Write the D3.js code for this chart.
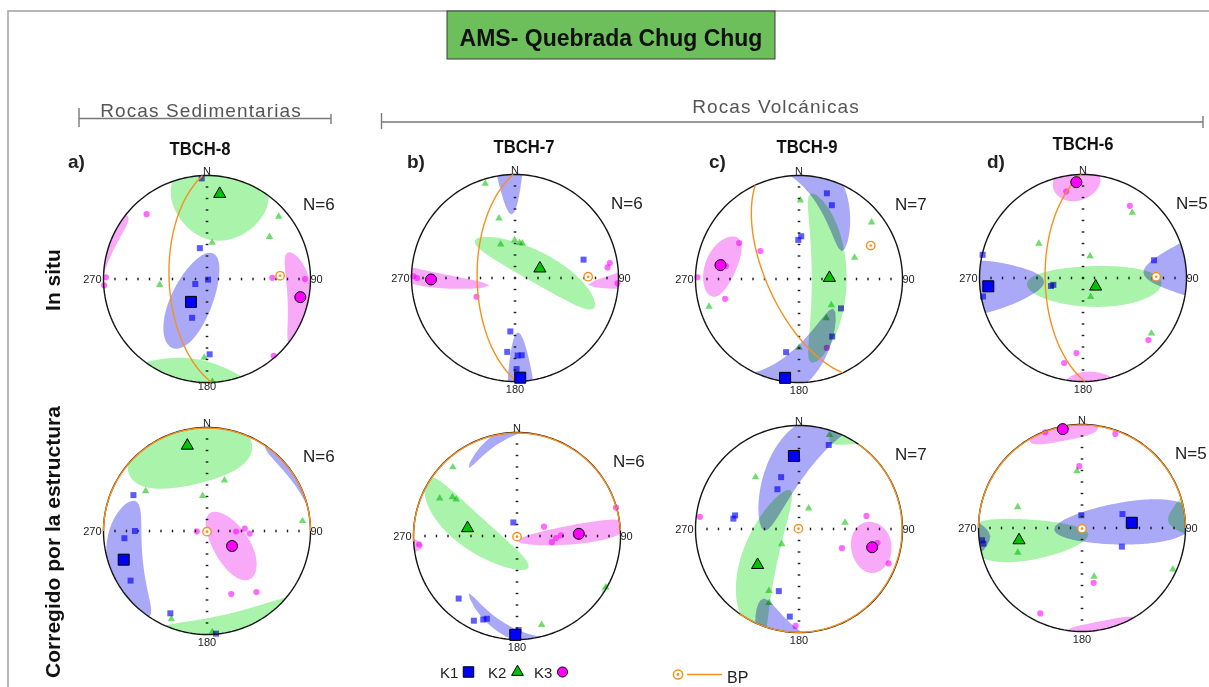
<!DOCTYPE html>
<html>
<head>
<meta charset="utf-8">
<script src="https://cdn.jsdelivr.net/npm/d3@7"></script>
<style>
  html, body { margin: 0; padding: 0; background: #ffffff; }
  svg { display: block; font-family: "Liberation Sans", Arial, Helvetica, sans-serif; }
</style>
</head>
<body>
<svg id="fig" width="1209" height="687"></svg>
<script>
// ---------------------------------------------------------------------------
// AMS stereonets (lower hemisphere, equal area). Directions are [trend, plunge]
// in degrees. Panel order: in situ a, b, c, d, then tilt-corrected a, b, c, d.
// ---------------------------------------------------------------------------
const figureTitle = "AMS- Quebrada Chug Chug";
const groupTitles = ["Rocas Sedimentarias", "Rocas Volcánicas"];
const rowTitles = ["In situ", "Corregido por la estructura"];
const panelLetters = ["a)", "b)", "c)", "d)"];
const sampleNames = ["TBCH-8", "TBCH-7", "TBCH-9", "TBCH-6"];
const specimenCounts = [6, 6, 7, 5];
const directionLabels = ["N", "90", "180", "270"];
const legendLabels = ["K1", "K2", "K3", "BP"];

// site means of the principal susceptibility axes
const k1Mean = [[215, 68], [177, 4], [188, 4], [265, 9], [251, 16], [181, 5], [356, 30], [84, 50]];
const k2Mean = [[8.5, 18], [69, 69], [88, 66], [124, 78], [347, 16.5], [279, 50], [229, 46], [259, 38]];
const k3Mean = [[101, 9], [269, 20], [280, 24], [356, 8], [121, 67], [88, 40], [104, 28], [349, 3]];

// confidence cones about each mean: [semi-angle 1, semi-angle 2, azimuth of semi-angle 1]
const k1Cone = [[42, 16, -11], [42.5, 7, 0], [68, 13, 32], [50, 15, 0], [40, 17, -67], [44, 5, -53], [63, 15, 31], [62, 16, 1]];
const k2Cone = [[41, 31, 0], [56, 12, 49], [70, 14, 92], [55, 16, -34], [41, 35, 90], [57, 13, 28], [64, 14, -31], [56, 15, 7]];
const k3Cone = [[30, 12, 65], [50, 5, 7], [22, 14, -65], [18.5, 14, 10], [31, 14, 26], [50, 7, -5], [20, 16, 25], [20, 12, 90]];

// individual specimens
const k1Specimens = [
  [[347, 65], [120, 89], [247, 80], [201, 57], [178, 28], [357, 3]],
  [[75, 32], [185, 47], [186, 29], [178, 26], [175, 26], [179, 13]],
  [[18, 14], [24, 23], [359, 59], [3, 56], [125, 49], [150, 36], [190, 29]],
  [[283, 0.5], [259.5, 2], [256, 64], [257, 66], [76, 30]],
  [[296, 22], [270, 31], [265, 21], [237, 13], [204, 14], [175, 0.5]],
  [[345, 79], [223, 18.5], [207, 9], [202, 14], [200, 16], [179, 10]],
  [[19.5, 15], [341, 46], [331.5, 54], [279, 36], [282, 37], [198, 37], [186, 16]],
  [[357, 80], [71, 56], [115, 55], [263, 3], [261, 4]]
];
const k2Specimens = [
  [[8, 61], [49, 9], [56, 28], [263, 52], [182, 25], [177, 1]],
  [[342.5, 5], [345, 40], [337, 61], [359.5, 60], [7.5, 62], [12, 62]],
  [[1, 25], [52, 12], [69, 42], [129, 57], [145, 52], [180, 34], [253, 10]],
  [[37, 22], [308, 45], [18, 72], [158, 74], [129, 16]],
  [[303, 30], [353, 62], [19, 47], [84, 8], [202, 9], [177, 2.5]],
  [[317, 10], [296, 18], [301, 28], [301, 32], [164.5, 12], [120, 1]],
  [[18, 5], [320, 35], [25, 72], [82, 53], [229, 72], [206, 34], [202, 24]],
  [[355, 44], [288, 35], [249, 34], [166, 50], [114.5, 4]]
];
const k3Specimens = [
  [[317, 15.5], [271, 2.6], [266.5, 0.5], [89, 37], [90, 6], [139, 2]],
  [[271, 2], [244, 56], [83.5, 11], [81, 8], [93, 1], [270, 6]],
  [[301, 33], [306, 52], [271, 2], [255, 27], [158, 29], [280, 29], [282.5, 25]],
  [[349, 16], [33, 18], [133.5, 14], [185, 28], [192.5, 17]],
  [[268, 82], [91, 67], [86.5, 60], [93.5, 56], [159, 35], [141, 25]],
  [[71, 67.5], [100, 62], [93, 59], [89, 55], [74, 0.5], [265, 5.6]],
  [[277, 4], [79, 34], [114, 52.5], [100, 24], [111, 8], [182, 7], [102.5, 26]],
  [[339, 1], [19.5, 4], [357.5, 40], [168, 45], [206, 9]]
];

// pole to bedding (BP); its plane is drawn as a great circle
const bedPole = [[87.5, 30], [89, 30], [65, 24.5], [89, 30], [180, 89.5], [177, 89.5], [305, 89.5], [180, 89.5]];

// ---------------------------------------------------------------------------
// layout and styling
// ---------------------------------------------------------------------------
const R = 103.5;
const centers = [[207, 279], [515, 278], [799, 279], [1083, 278],
                 [207, 531], [517, 536], [799, 529], [1082, 528]];
const colors = {
  k1: "#0000ff", k1Small: "#5c5cff", k1Cone: "#a9a9f8",
  k2: "#00c400", k2Small: "#70dc70", k2Cone: "#aaf3aa",
  k3: "#ff00ff", k3Small: "#ff6bff", k3Cone: "#f8aaf8",
  bp: "#f7901e"
};
const rad = Math.PI / 180;

const svg = d3.select("#fig");

// lower-hemisphere direction -> geographic coordinates (nadir = projection centre)
const lonLat = d => [180 - d[0], d[1]];

// spherical ellipse about a mean direction, plus its antipode (axial data)
function coneRegions(mean, cone) {
  const a = cone[0] * rad, b = cone[1] * rad, rot = cone[2] * rad;
  const L = (180 - mean[0]) * rad, P = mean[1] * rad;
  const c = [Math.cos(P) * Math.cos(L), Math.cos(P) * Math.sin(L), Math.sin(P)];
  const eN = [-Math.sin(P) * Math.cos(L), -Math.sin(P) * Math.sin(L), Math.cos(P)];
  const eE = [-Math.sin(L), Math.cos(L), 0];
  const u = [0, 1, 2].map(i => eN[i] * Math.cos(rot) + eE[i] * Math.sin(rot));
  const v = [0, 1, 2].map(i => -eN[i] * Math.sin(rot) + eE[i] * Math.cos(rot));
  const ring = d3.range(0, 360, 3).map(deg => {
    const t = deg * rad;
    const th = a * b / Math.hypot(b * Math.cos(t), a * Math.sin(t));
    const p = [0, 1, 2].map(i => c[i] * Math.cos(th) + (u[i] * Math.cos(t) + v[i] * Math.sin(t)) * Math.sin(th));
    return [Math.atan2(p[1], p[0]) / rad, Math.asin(Math.max(-1, Math.min(1, p[2]))) / rad];
  });
  ring.push(ring[0]);
  const anti = ring.map(([x, y]) => [x > 0 ? x - 180 : x + 180, -y]);
  return [ring, anti].map(r => {
    const poly = { type: "Polygon", coordinates: [r] };
    if (d3.geoArea(poly) > 2 * Math.PI) poly.coordinates = [r.slice().reverse()];
    return poly;
  });
}

const symbolPath = (type, size) => d3.symbol().type(type).size(size)();

// ---------------------------------------------------------------------------
// frame, title and headers
// ---------------------------------------------------------------------------
svg.append("path").attr("d", "M8,687V11H1209")
  .attr("fill", "none").attr("stroke", "#a0a0a0").attr("stroke-width", 1.5);

svg.append("rect").attr("x", 447).attr("y", 11).attr("width", 328).attr("height", 48)
  .attr("fill", "#6cbf5b").attr("stroke", "#3d3d3d").attr("stroke-width", 1);
svg.append("text").attr("x", 611).attr("y", 46).attr("text-anchor", "middle")
  .attr("font-size", 23).attr("font-weight", "bold").attr("fill", "#111").text(figureTitle);

const groups = [
  { title: groupTitles[0], tx: 201, ty: 116.5, x0: 79, x1: 331, ly: 118.5, t0: [108, 127], t1: [114, 124] },
  { title: groupTitles[1], tx: 776, ty: 113, x0: 381.5, x1: 1203, ly: 122, t0: [113, 129], t1: [116, 128] }
];
groups.forEach(g => {
  svg.append("path")
    .attr("d", `M${g.x0},${g.t0[0]}V${g.t0[1]}M${g.x0},${g.ly}H${g.x1}M${g.x1},${g.t1[0]}V${g.t1[1]}`)
    .attr("fill", "none").attr("stroke", "#7a7a7a").attr("stroke-width", 1.4);
  svg.append("text").attr("x", g.tx).attr("y", g.ty).attr("text-anchor", "middle")
    .attr("font-size", 19).attr("letter-spacing", 1.1).attr("fill", "#555").text(g.title);
});

const letterX = [68, 407, 709, 987];
const nameX = [200, 524, 807, 1083];
const nameY = [155, 153, 153, 150];
panelLetters.forEach((t, i) => {
  svg.append("text").attr("x", letterX[i]).attr("y", 168)
    .attr("font-size", 19).attr("font-weight", "bold").attr("fill", "#222").text(t);
  svg.append("text").attr("x", nameX[i]).attr("y", nameY[i]).attr("text-anchor", "middle")
    .attr("font-size", 18).attr("font-weight", "bold").attr("fill", "#111")
    .attr("textLength", 61).attr("lengthAdjust", "spacingAndGlyphs").text(sampleNames[i]);
});

const rowY = [280, 542];
rowTitles.forEach((t, i) => {
  svg.append("text").attr("transform", `translate(60,${rowY[i]}) rotate(-90)`)
    .attr("text-anchor", "middle").attr("font-size", 21).attr("font-weight", "bold")
    .attr("fill", "#111").text(t);
});

// ---------------------------------------------------------------------------
// stereonets
// ---------------------------------------------------------------------------
const tickScale = d3.scaleLinear().domain([-9, 9]).range([-R, R]);
const tickSteps = d3.range(-8, 9);

centers.forEach((cen, k) => {
  const proj = d3.geoAzimuthalEqualArea()
    .rotate([0, -90]).scale(R / Math.SQRT2).translate(cen)
    .clipAngle(90).precision(0.2);
  const path = d3.geoPath(proj);
  const g = svg.append("g");
  const at = d => `translate(${proj(lonLat(d))})`;

  // confidence regions
  [[k1Mean, k1Cone, colors.k1Cone], [k3Mean, k3Cone, colors.k3Cone], [k2Mean, k2Cone, colors.k2Cone]]
    .forEach(([m, c, col]) => {
      g.append("g").selectAll("path").data(coneRegions(m[k], c[k])).join("path")
        .attr("d", path).attr("fill", col).attr("stroke", "none")
        .style("mix-blend-mode", "multiply");
    });

  // specimens
  g.append("g").selectAll("path").data(k1Specimens[k]).join("path")
    .attr("transform", at).attr("d", symbolPath(d3.symbolSquare, 36))
    .attr("fill", colors.k1Small).style("mix-blend-mode", "multiply");
  g.append("g").selectAll("path").data(k2Specimens[k]).join("path")
    .attr("transform", at).attr("d", symbolPath(d3.symbolTriangle, 24))
    .attr("fill", colors.k2Small).style("mix-blend-mode", "multiply");
  g.append("g").selectAll("path").data(k3Specimens[k]).join("path")
    .attr("transform", at).attr("d", symbolPath(d3.symbolCircle, 30))
    .attr("fill", colors.k3Small).style("mix-blend-mode", "multiply");

  // dotted N-S and E-W diameters
  g.append("g").selectAll("rect").data(tickSteps).join("rect")
    .attr("x", cen[0] - 1.3).attr("y", d => cen[1] + tickScale(d) - 0.7)
    .attr("width", 2.6).attr("height", 1.4).attr("fill", "#1a1a1a");
  g.append("g").selectAll("rect").data(tickSteps).join("rect")
    .attr("x", d => cen[0] + tickScale(d) - 0.7).attr("y", cen[1] - 1.3)
    .attr("width", 1.4).attr("height", 2.6).attr("fill", "#1a1a1a");

  // primitive circle
  g.append("path").attr("d", path({ type: "Sphere" }))
    .attr("fill", "none").attr("stroke", "#151515").attr("stroke-width", 1.4);

  // bedding plane and its pole
  const plane = d3.geoCircle().center(lonLat(bedPole[k])).radius(90).precision(1)();
  g.append("path").attr("d", path({ type: "LineString", coordinates: plane.coordinates[0] }))
    .attr("fill", "none").attr("stroke", colors.bp).attr("stroke-width", 1.4);
  const pole = proj(lonLat(bedPole[k]));
  g.append("circle").attr("cx", pole[0]).attr("cy", pole[1]).attr("r", 4.2)
    .attr("fill", "#fff").attr("stroke", colors.bp).attr("stroke-width", 1.4);
  g.append("circle").attr("cx", pole[0]).attr("cy", pole[1]).attr("r", 1.3).attr("fill", colors.bp);

  // site means
  g.append("path").attr("transform", at(k1Mean[k])).attr("d", symbolPath(d3.symbolSquare, 121))
    .attr("fill", colors.k1).attr("stroke", "#000").attr("stroke-width", 1);
  g.append("path").attr("transform", at(k2Mean[k])).attr("d", symbolPath(d3.symbolTriangle, 64))
    .attr("fill", colors.k2).attr("stroke", "#000").attr("stroke-width", 1);
  g.append("path").attr("transform", at(k3Mean[k])).attr("d", symbolPath(d3.symbolCircle, 95))
    .attr("fill", colors.k3).attr("stroke", "#000").attr("stroke-width", 1);

  // direction labels
  const lab = (x, y, t, anchor) => g.append("text").attr("x", x).attr("y", y)
    .attr("text-anchor", anchor).attr("font-size", 11).attr("fill", "#222").text(t);
  lab(cen[0], cen[1] - R - 1, directionLabels[0], "middle");
  lab(cen[0] + R, cen[1] + 4, directionLabels[1], "start");
  lab(cen[0], cen[1] + R + (k === 0 ? 7 : 11), directionLabels[2], "middle");
  lab(cen[0] - R - 2, cen[1] + 4, directionLabels[3], "end");

  g.append("text").attr("x", cen[0] + (k % 4 === 3 ? 93 : 96)).attr("y", cen[1] - 69)
    .attr("font-size", 17).attr("fill", "#222").text("N=" + specimenCounts[k % 4]);
});

// ---------------------------------------------------------------------------
// legend
// ---------------------------------------------------------------------------
const legend = svg.append("g");
const legendItems = [
  { label: legendLabels[0], tx: 440, sx: 468.5, type: d3.symbolSquare, size: 110, fill: colors.k1 },
  { label: legendLabels[1], tx: 488, sx: 517.5, type: d3.symbolTriangle, size: 60, fill: colors.k2 },
  { label: legendLabels[2], tx: 534, sx: 562.5, type: d3.symbolCircle, size: 80, fill: colors.k3 }
];
legendItems.forEach(it => {
  legend.append("text").attr("x", it.tx).attr("y", 678).attr("font-size", 15).attr("fill", "#222").text(it.label);
  legend.append("path").attr("transform", `translate(${it.sx},672)`).attr("d", symbolPath(it.type, it.size))
    .attr("fill", it.fill).attr("stroke", "#000").attr("stroke-width", 1);
});
legend.append("circle").attr("cx", 678).attr("cy", 674.5).attr("r", 4.6)
  .attr("fill", "#fff").attr("stroke", colors.bp).attr("stroke-width", 1.5);
legend.append("circle").attr("cx", 678).attr("cy", 674.5).attr("r", 1.4).attr("fill", colors.bp);
legend.append("line").attr("x1", 687).attr("x2", 722).attr("y1", 674.5).attr("y2", 674.5)
  .attr("stroke", colors.bp).attr("stroke-width", 1.5);
legend.append("text").attr("x", 727).attr("y", 682.5).attr("font-size", 16).attr("fill", "#222").text(legendLabels[3]);
</script>
</body>
</html>
